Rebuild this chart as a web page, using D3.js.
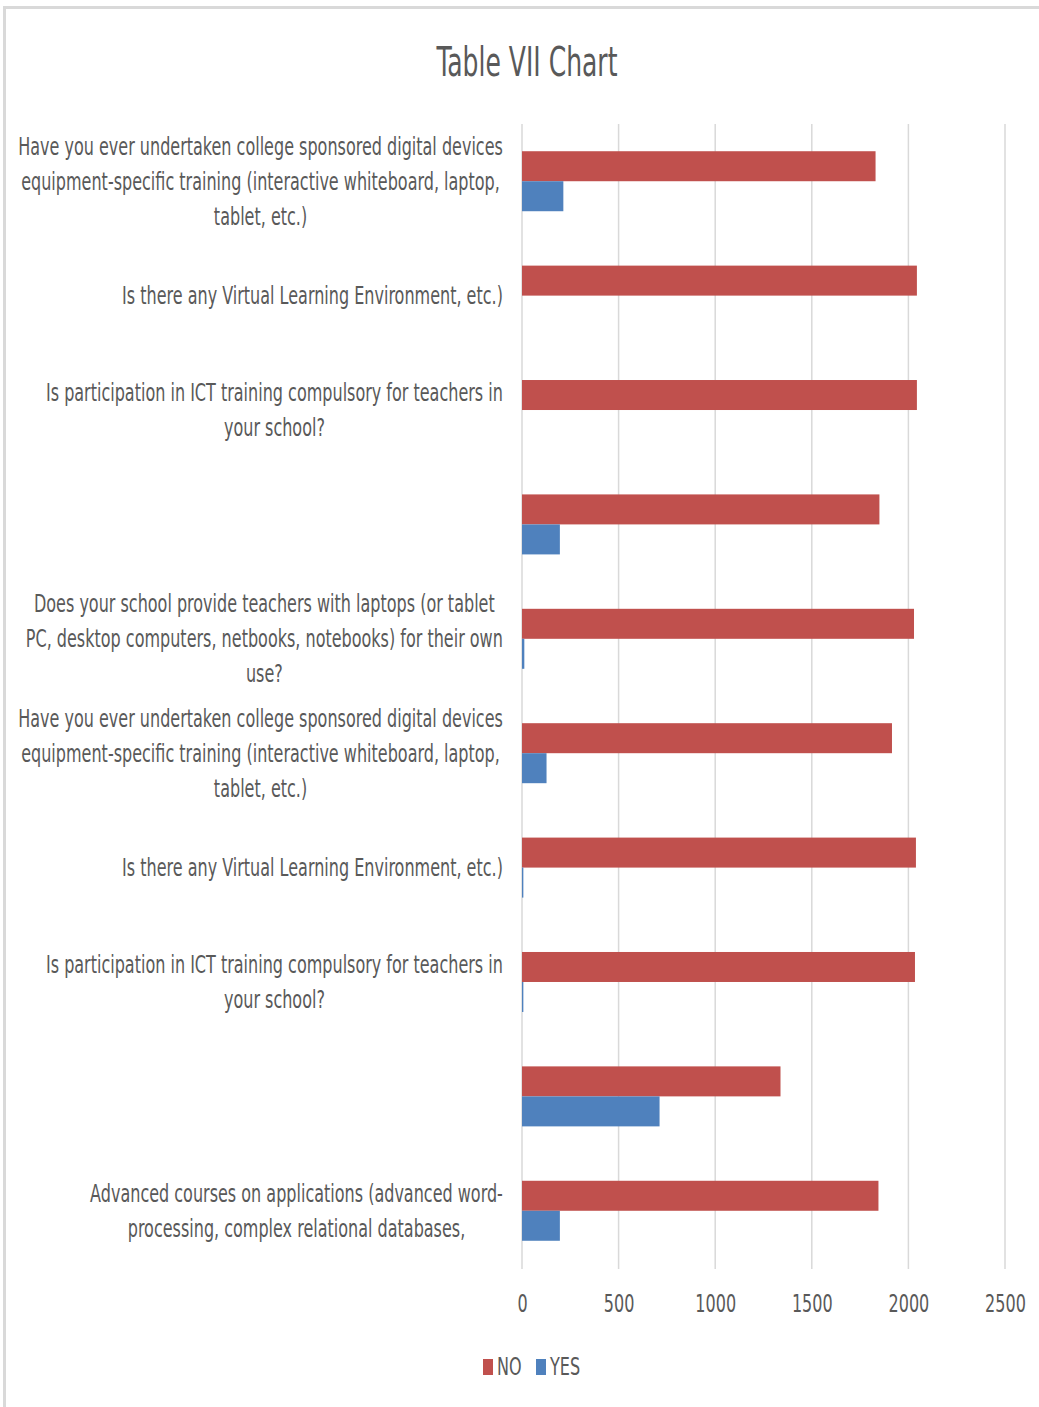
<!DOCTYPE html>
<html>
<head>
<meta charset="utf-8">
<script src="https://cdn.jsdelivr.net/npm/d3@7"></script>
<style>
  body { margin: 0; background: #fff; }
  text { font-family: "Liberation Sans Narrow", "Arial Narrow", "DejaVu Sans Condensed", sans-serif; fill: #595959; }
</style>
</head>
<body>
<div id="chart"></div>
<script>
// category labels (one array of lines per bar group, top to bottom)
var labels = [
    ["Have you ever undertaken college sponsored digital devices", "equipment-specific training (interactive whiteboard, laptop,", "tablet, etc.)"],
    ["Is there any Virtual Learning Environment, etc.)"],
    ["Is participation in ICT training compulsory for teachers in", "your school?"],
    [],
    ["Does your school provide teachers with laptops (or tablet", "PC, desktop computers, netbooks, notebooks) for their own", "use?"],
    ["Have you ever undertaken college sponsored digital devices", "equipment-specific training (interactive whiteboard, laptop,", "tablet, etc.)"],
    ["Is there any Virtual Learning Environment, etc.)"],
    ["Is participation in ICT training compulsory for teachers in", "your school?"],
    [],
    ["Advanced courses on applications (advanced word-", "processing, complex relational databases,"]
];
var noVals  = [1830, 2044, 2044, 1850, 2029, 1915, 2039, 2034, 1338, 1845];
var yesVals = [ 214,    0,    0,  196,   12,  127,    7,    7,  712,  196];
var seriesNames = ["NO", "YES"];
var seriesColors = ["#c0504d", "#4f81bd"];
var xTicks = [0, 500, 1000, 1500, 2000, 2500];
var title = "Table VII Chart";

var W = 1039, H = 1407;
var plot = {left: 522, right: 1005, top: 124, bottom: 1268};

var svg = d3.select('#chart')
    .append('svg')
    .attr('width', W)
    .attr('height', H);

// chart frame
svg.append('rect')
    .attr('x', 4.5).attr('y', 7.5)
    .attr('width', 1100).attr('height', 1500)
    .attr('fill', 'none')
    .attr('stroke', '#d9d9d9')
    .attr('stroke-width', 3);

// measure how narrow the text must be squeezed
function measure(str, size) {
    var t = svg.append('text').style('font-size', size + 'px').text(str);
    var len = t.node().getComputedTextLength();
    t.remove();
    return len;
}
var fs = 24;
var sx = 381 / measure("Is there any Virtual Learning Environment, etc.)", fs);
var titleSize = 41;
var sxTitle = 181 / measure(title, titleSize);

// scales
var x = d3.scaleLinear()
    .domain([0, 2500])
    .range([plot.left, plot.right]);

var y = d3.scaleBand()
    .domain(d3.range(labels.length))
    .range([plot.top, plot.bottom])
    .paddingInner(0.4755)
    .paddingOuter(0.238);

var ySub = d3.scaleBand()
    .domain(seriesNames)
    .range([0, y.bandwidth()]);

// gridlines
svg.append('g')
    .selectAll('line')
    .data(xTicks)
    .enter()
    .append('line')
        .attr('x1', function(d) { return x(d); })
        .attr('x2', function(d) { return x(d); })
        .attr('y1', plot.top)
        .attr('y2', plot.bottom + 1)
        .attr('stroke', '#d9d9d9')
        .attr('stroke-width', 1.5);

// bars
var rows = labels.map(function(l, i) {
    return {i: i, vals: [noVals[i], yesVals[i]]};
});
var groups = svg.append('g')
    .selectAll('g')
    .data(rows)
    .enter()
    .append('g')
        .attr('transform', function(d) { return 'translate(0,' + y(d.i) + ')'; });

groups.selectAll('rect')
    .data(function(d) { return d.vals.map(function(v, k) { return {s: seriesNames[k], v: v, c: seriesColors[k]}; }); })
    .enter()
    .append('rect')
        .attr('x', x(0))
        .attr('y', function(d) { return ySub(d.s); })
        .attr('width', function(d) { return x(d.v) - x(0); })
        .attr('height', ySub.bandwidth())
        .attr('fill', function(d) { return d.c; });

// category labels, each block right aligned at the axis, lines centred in the block
var labelRight = 503;
var lineH = 35;
labels.forEach(function(lines, i) {
    if (!lines.length) return;
    var maxW = d3.max(lines, function(l) { return measure(l, fs); }) * sx;
    var cx = labelRight - maxW / 2;
    var cy = y(i) + y.bandwidth() / 2;
    var g = svg.append('g')
        .attr('transform', 'translate(' + cx + ',' + cy + ') scale(' + sx + ',1)');
    lines.forEach(function(l, k) {
        g.append('text')
            .attr('x', 0)
            .attr('y', (k - (lines.length - 1) / 2) * lineH)
            .attr('dy', '0.35em')
            .attr('text-anchor', 'middle')
            .style('font-size', fs + 'px')
            .text(l);
    });
});

// x axis labels
var xAxis = svg.append('g')
    .attr('transform', 'translate(0,' + (plot.bottom + 36) + ')')
    .call(d3.axisBottom(x).tickValues(xTicks).tickSize(0).tickFormat(d3.format('d')));
xAxis.select('.domain').remove();
xAxis.selectAll('text')
    .attr('y', 0)
    .attr('dy', '0.35em')
    .attr('fill', '#595959')
    .attr('transform', 'scale(' + sx + ',1)')
    .style('font-family', null)
    .style('font-size', fs + 'px');
xAxis.attr('font-family', null).attr('font-size', null);

// title
svg.append('g')
    .attr('transform', 'translate(527,76) scale(' + sxTitle + ',1)')
    .append('text')
        .attr('text-anchor', 'middle')
        .style('font-size', titleSize + 'px')
        .text(title);

// legend
var legX = [483, 536];
var legend = svg.append('g')
    .selectAll('g')
    .data(seriesNames)
    .enter()
    .append('g')
        .attr('transform', function(d, i) { return 'translate(' + legX[i] + ',1359)'; });
legend.append('rect')
    .attr('width', 10)
    .attr('height', 16)
    .attr('fill', function(d, i) { return seriesColors[i]; });
legend.append('g')
    .attr('transform', 'translate(14,8) scale(' + sx + ',1)')
    .append('text')
        .attr('dy', '0.35em')
        .style('font-size', fs + 'px')
        .text(function(d) { return d; });
</script>
</body>
</html>
